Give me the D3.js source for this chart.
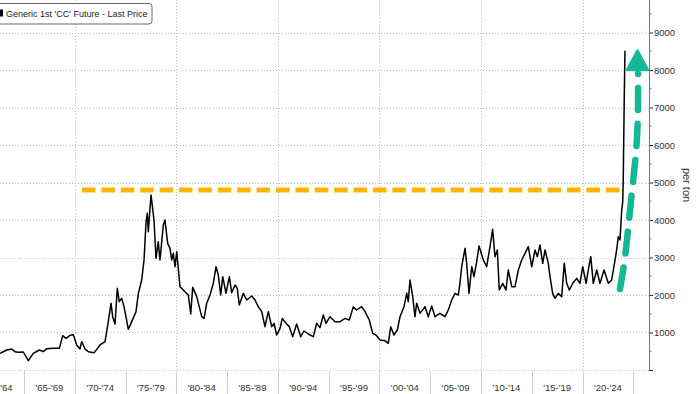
<!DOCTYPE html>
<html>
<head>
<meta charset="utf-8">
<script src="https://cdn.jsdelivr.net/npm/d3@7"></script>
<style>
  body { margin: 0; background: #fff; }
  svg { display: block; font-family: "Liberation Sans", Arial, sans-serif; }
</style>
</head>
<body>
<div id="grafico"></div>
<script>
// Datos (año decimal, precio por tonelada)
const years = [1962.64,1963.30,1963.79,1964.11,1964.44,1964.93,1965.42,1965.92,1966.51,1966.90,1967.24,1967.89,1968.48,1968.81,1969.14,1969.53,1969.85,
  1970.19,1970.51,1970.68,1971.01,1971.33,1971.92,1972.48,1972.98,1973.30,1973.57,1973.73,1973.96,1974.19,1974.38,1974.62,1974.85,1975.04,1975.27,1975.61,
  1976.03,1976.26,1976.59,1976.82,1977.01,1977.14,1977.24,1977.51,1977.80,1978.00,1978.22,1978.39,1978.72,1978.88,1979.15,1979.38,1979.54,1979.70,1979.87,
  1980.04,1980.36,1980.85,1981.18,1981.42,1981.61,1982.01,1982.50,1982.73,1982.99,1983.32,1983.64,1983.91,1984.13,1984.37,1984.57,1984.89,1985.22,1985.45,
  1985.78,1986.00,1986.20,1986.60,1986.93,1987.42,1987.75,1988.07,1988.41,1988.73,1989.06,1989.39,1989.62,1989.88,1990.21,1990.44,1990.80,1991.13,1991.46,
  1991.85,1992.25,1992.57,1993.00,1993.49,1993.82,1994.15,1994.47,1994.74,1995.13,1995.63,1996.12,1996.61,1997.03,1997.43,1997.76,1998.25,1998.58,1999.00,
  1999.34,1999.66,2000.06,2000.55,2000.87,2001.11,2001.43,2001.76,2002.03,2002.42,2002.69,2002.84,2003.01,2003.28,2003.50,2003.67,2004.00,2004.49,2004.81,
  2005.15,2005.47,2005.96,2006.46,2006.78,2007.12,2007.44,2007.77,2007.93,2008.10,2008.43,2008.59,2008.82,2009.09,2009.31,2009.58,2009.81,2010.23,2010.56,
  2010.89,2011.15,2011.38,2011.61,2011.80,2012.14,2012.46,2012.69,2013.03,2013.35,2013.68,2014.01,2014.34,2014.66,2015.00,2015.32,2015.55,2015.81,2016.08,
  2016.31,2016.63,2016.80,2017.06,2017.29,2017.61,2017.95,2018.20,2018.44,2018.70,2019.03,2019.43,2019.75,2020.02,2020.35,2020.57,2020.81,2021.06,2021.40,
  2021.72,2022.12,2022.54,2022.87,2023.20,2023.36,2023.52,2023.69,2023.86,2023.96,2024.01,2024.11,2024.18]
const prices = [445,533,560,489,471,480,249,445,533,489,569,578,578,916,844,924,942,
  667,560,756,560,489,462,667,756,1289,1778,1422,1227,2178,1822,1911,1689,1422,1084,1289,
  1556,2044,2400,2933,3911,4178,3689,4667,4000,2978,3422,2933,3867,4000,3378,3244,2933,3111,2756,
  3156,2222,2089,2000,1493,2204,1956,1422,1378,1778,2000,2311,2756,2533,2000,2489,2044,2489,2062,
  2267,2178,1733,2044,1867,1973,1867,1689,1556,1156,1556,1156,1244,933,1111,1378,1244,1156,889,
  1227,889,1040,960,889,1244,1130,1467,1244,1422,1289,1289,1378,1333,1689,1600,1689,1556,1333,
  978,933,800,782,711,1156,933,1067,1422,1689,2044,1822,2400,1956,1422,1778,1511,1689,1422,
  1707,1422,1511,1422,1600,1867,2044,2000,2311,2756,3244,2844,2044,2756,2489,2889,3307,2933,2756,
  3289,3751,3022,3200,2133,2311,2133,2667,2222,2222,2667,2933,3111,3289,2756,3200,3022,3333,2844,
  3200,2844,2489,2044,1911,2044,1956,2844,2311,2133,2311,2444,2311,2756,2311,2667,3022,2311,2667,
  2311,2667,2311,2400,2933,3200,3556,3467,4267,4489,5067,7289,8516]

// Etiquetas del eje X (periodos de 5 años) y ticks del eje Y
const periodStarts = [1960,1965,1970,1975,1980,1985,1990,1995,2000,2005,2010,2015,2020]
const periodLabels = ["'60-'64","'65-'69","'70-'74","'75-'79","'80-'84","'85-'89","'90-'94","'95-'99","'00-'04","'05-'09","'10-'14","'15-'19","'20-'24"]
const yTicks = [0,1000,2000,3000,4000,5000,6000,7000,8000,9000]
const yMinorTicks = [500,1500,2500,3500,4500,5500,6500,7500,8500,9500]
const gridYears = [1960,1970,1980,1990,2000,2010,2020]

// Anotaciones: linea naranja (maximo de los 70) y flecha verde
const orangeLevel = 4800
const orangeYears = [1970.71, 2023.69]
const arrowYears = [2023.69, 2024.18, 2024.58, 2024.97, 2025.32, 2025.46, 2025.47]
const arrowPrices = [2160, 3013, 4000, 5013, 6000, 6987, 7900]
const arrowHeadYears = [2024.38, 2025.41, 2026.45]
const arrowHeadPrices = [8000, 8520, 8000]

const legendText = "Generic 1st 'CC' Future - Last Price"
const axisTitle = 'per ton'

const ancho = 700, alto = 394
const plotRight = 649, plotBottom = 370

const svg = d3.select('#grafico').append('svg')
  .attr('width', ancho).attr('height', alto)

const x = d3.scaleLinear().domain([1965, 2025]).range([24, 633.3])
const y = d3.scaleLinear().domain([0, 9000]).range([plotBottom, 32.5])

svg.append('defs').append('clipPath').attr('id', 'area')
  .append('rect').attr('x', 0).attr('y', 0).attr('width', plotRight).attr('height', plotBottom)

/***** Rejilla punteada *****/
const grid = svg.append('g').attr('stroke', '#bdbdbd').attr('stroke-dasharray', '1,2').attr('stroke-width', 1)
grid.selectAll('.gh').data(yTicks).join('line')
  .attr('x1', 0).attr('x2', plotRight)
  .attr('y1', d => Math.round(y(d)) + 0.5).attr('y2', d => Math.round(y(d)) + 0.5)
grid.selectAll('.gv').data(gridYears).join('line')
  .attr('x1', d => Math.round(x(d)) + 0.5).attr('x2', d => Math.round(x(d)) + 0.5)
  .attr('y1', 0).attr('y2', plotBottom)

/***** Eje X con categorias *****/
const xAxis = svg.append('g')
xAxis.selectAll('line').data(periodStarts.concat([2025])).join('line')
  .attr('x1', d => Math.round(x(d)) + 0.5).attr('x2', d => Math.round(x(d)) + 0.5)
  .attr('y1', plotBottom + 1).attr('y2', alto)
  .attr('stroke', '#cfcfcf')
xAxis.selectAll('text').data(periodStarts).join('text')
  .attr('x', d => x(d + 2.5)).attr('y', 391)
  .attr('text-anchor', 'middle').attr('font-size', '9.5px').attr('fill', '#333')
  .text((d, i) => periodLabels[i])

/***** Linea naranja *****/
svg.append('line')
  .attr('x1', x(orangeYears[0])).attr('x2', x(orangeYears[1]))
  .attr('y1', y(orangeLevel)).attr('y2', y(orangeLevel))
  .attr('stroke', '#ffb400').attr('stroke-width', 5)
  .attr('stroke-dasharray', '13.5,5.9')

/***** Serie de precios *****/
const serie = years.map((d, i) => ({ year: d, price: prices[i] }))
svg.append('path').datum(serie)
  .attr('clip-path', 'url(#area)')
  .attr('fill', 'none').attr('stroke', '#000').attr('stroke-width', 1.5)
  .attr('stroke-linejoin', 'round')
  .attr('d', d3.line().x(d => x(d.year)).y(d => y(d.price)))

/***** Flecha verde *****/
const flecha = arrowYears.map((d, i) => [d, arrowPrices[i]])
svg.append('path').datum(flecha)
  .attr('fill', 'none').attr('stroke', '#14b896').attr('stroke-width', 6.5)
  .attr('stroke-linecap', 'round').attr('stroke-dasharray', '22,14')
  .attr('d', d3.line().curve(d3.curveNatural).x(d => x(d[0])).y(d => y(d[1])))
svg.append('polygon')
  .attr('points', arrowHeadYears.map((d, i) => x(d) + ',' + y(arrowHeadPrices[i])).join(' '))
  .attr('fill', '#14b896').attr('stroke', '#14b896').attr('stroke-width', 2.5)
  .attr('stroke-linejoin', 'round')

/***** Eje Y a la derecha *****/
const yAxisGroup = svg.append('g').attr('transform', `translate(${plotRight}, 0)`)
yAxisGroup.call(d3.axisRight(y).tickValues(yTicks).tickSize(4).tickPadding(1)
  .tickFormat(d => d === 0 ? '' : d))
yAxisGroup.select('.domain').remove()
yAxisGroup.selectAll('.tick line').attr('stroke', '#222')
yAxisGroup.selectAll('.tick text').attr('font-size', '9.5px').attr('fill', '#333')
  .attr('font-family', '"Liberation Sans", Arial, sans-serif')
yAxisGroup.selectAll('.minor').data(yMinorTicks).join('line')
  .attr('class', 'minor')
  .attr('x1', 0).attr('x2', 2.5)
  .attr('y1', d => y(d)).attr('y2', d => y(d))
  .attr('stroke', '#777')
yAxisGroup.append('line')
  .attr('x1', 0.5).attr('x2', 0.5).attr('y1', 0).attr('y2', plotBottom + 0.5)
  .attr('stroke', '#777')

svg.append('text')
  .attr('transform', `translate(683, 185) rotate(90)`)
  .attr('text-anchor', 'middle').attr('font-size', '11px').attr('fill', '#333')
  .text(axisTitle)

/***** Leyenda *****/
const leyenda = svg.append('g')
leyenda.append('rect')
  .attr('x', -6).attr('y', 3.5).attr('width', 158).attr('height', 20.5).attr('rx', 3)
  .attr('fill', '#fff').attr('stroke', '#666')
leyenda.append('rect')
  .attr('x', -4).attr('y', 9.5).attr('width', 7).attr('height', 7).attr('fill', '#000')
leyenda.append('text')
  .attr('x', 6).attr('y', 16.8).attr('font-size', '9px').attr('fill', '#222')
  .text(legendText)
</script>
</body>
</html>
